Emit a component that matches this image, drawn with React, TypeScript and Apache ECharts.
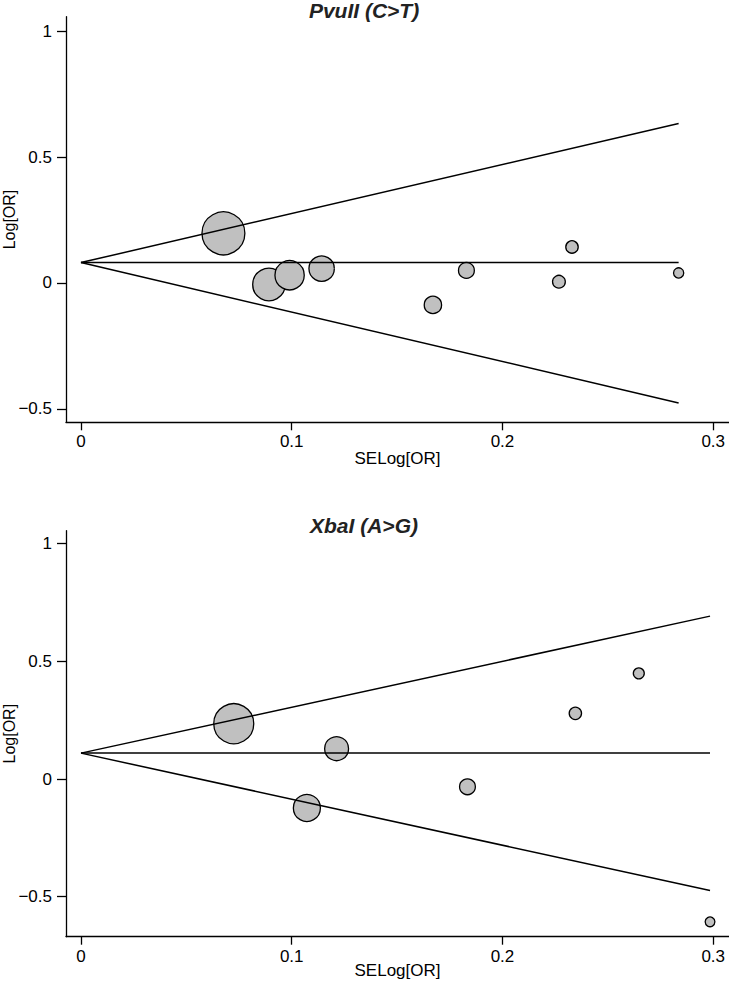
import React, { useEffect, useRef } from "react";
import * as echarts from "echarts";

// Tick values
const xTicks = [0, 0.1, 0.2, 0.3];
const yTicks = [-0.5, 0, 0.5, 1];

// PvuII (C>T)
const pvuTitle = "PvuII (C>T)";
const pvuSE = [0.0676, 0.0892, 0.099, 0.1142, 0.167, 0.1829, 0.2268, 0.233, 0.2836];
const pvuLogOR = [0.197, -0.006, 0.031, 0.057, -0.087, 0.05, 0.005, 0.143, 0.04];
const pvuFunnelSE = [0, 0.2836];
const pvuPooled = [0.081, 0.081];
const pvuUpper = [0.081, 0.633];
const pvuLower = [0.081, -0.476];

// XbaI (A>G)
const xbaTitle = "XbaI (A>G)";
const xbaSE = [0.0725, 0.1072, 0.1213, 0.1834, 0.2346, 0.2647, 0.2985];
const xbaLogOR = [0.235, -0.123, 0.129, -0.033, 0.279, 0.449, -0.607];
const xbaFunnelSE = [0, 0.2985];
const xbaPooled = [0.11, 0.11];
const xbaUpper = [0.11, 0.692];
const xbaLower = [0.11, -0.474];

const FONT = "'Liberation Sans', Arial, Helvetica, sans-serif";

function pairs(xs: number[], ys: number[]) {
  return xs.map((x, i) => [x, ys[i]]);
}

function buildSeries(
  idx: number,
  se: number[],
  lor: number[],
  fSE: number[],
  pooled: number[],
  upper: number[],
  lower: number[]
) {
  const lineCommon = {
    type: "line",
    xAxisIndex: idx,
    yAxisIndex: idx,
    showSymbol: false,
    symbol: "none",
    silent: true,
    z: 4,
    lineStyle: { color: "#000", width: 1.5 },
  };
  return [
    {
      type: "scatter",
      xAxisIndex: idx,
      yAxisIndex: idx,
      z: 2,
      symbol: "circle",
      symbolSize: (v: number[]) => 2.9 / v[0],
      itemStyle: { color: "#c0c0c0", borderColor: "#000", borderWidth: 1.3, opacity: 1 },
      data: pairs(se, lor),
    },
    { ...lineCommon, data: pairs(fSE, pooled) },
    { ...lineCommon, data: pairs(fSE, upper) },
    { ...lineCommon, data: pairs(fSE, lower) },
  ];
}

function xAxisCfg(idx: number) {
  return {
    gridIndex: idx,
    type: "value",
    min: -0.0071,
    max: 0.3075,
    name: "SELog[OR]",
    nameLocation: "middle",
    nameGap: idx === 0 ? 28 : 25,
    nameMoveOverlap: false,
    nameTextStyle: { fontSize: 17, color: "#000", fontFamily: FONT },
    axisLine: { show: true, onZero: false, lineStyle: { color: "#000", width: 1.3 } },
    axisTick: { show: true, customValues: xTicks, length: 8, lineStyle: { color: "#000", width: 1.3 } },
    axisLabel: {
      customValues: xTicks,
      margin: 11,
      fontSize: 17,
      color: "#000",
      fontFamily: FONT,
      formatter: (v: number) => String(v),
    },
    splitLine: { show: false },
  };
}

function yAxisCfg(idx: number, min: number, max: number) {
  return {
    gridIndex: idx,
    type: "value",
    min,
    max,
    name: "Log[OR]",
    nameLocation: "middle",
    nameGap: 49,
    nameRotate: 90,
    nameMoveOverlap: false,
    nameTextStyle: { fontSize: 16, color: "#000", fontFamily: FONT },
    axisLine: { show: true, onZero: false, lineStyle: { color: "#000", width: 1.3 } },
    axisTick: { show: true, customValues: yTicks, length: 9, lineStyle: { color: "#000", width: 1.3 } },
    axisLabel: {
      customValues: yTicks,
      margin: 14,
      fontSize: 17,
      color: "#000",
      fontFamily: FONT,
      formatter: (v: number) => String(v).replace("-", "\u2212"),
    },
    splitLine: { show: false },
  };
}

export default function App() {
  const ref = useRef<HTMLDivElement>(null);
  useEffect(() => {
    if (!ref.current) return;
    const chart = echarts.init(ref.current, null, { renderer: "svg" });
    chart.setOption({
      animation: false,
      backgroundColor: "#fff",
      grid: [
        { left: 66, top: 16.7, right: 0, height: 405.6, containLabel: false, outerBoundsMode: "none" },
        { left: 66, top: 530.7, right: 0, height: 406, containLabel: false, outerBoundsMode: "none" },
      ],
      xAxis: [xAxisCfg(0), xAxisCfg(1)],
      yAxis: [yAxisCfg(0, -0.553, 1.057), yAxisCfg(1, -0.67, 1.055)],
      graphic: [
        {
          type: "text",
          x: 364,
          y: 10,
          style: {
            text: pvuTitle,
            textAlign: "center",
            textVerticalAlign: "middle",
            font: `italic bold 21px ${FONT}`,
            fill: "#222",
          },
        },
        {
          type: "text",
          x: 364,
          y: 525,
          style: {
            text: xbaTitle,
            textAlign: "center",
            textVerticalAlign: "middle",
            font: `italic bold 21px ${FONT}`,
            fill: "#222",
          },
        },
      ],
      series: [
        ...buildSeries(0, pvuSE, pvuLogOR, pvuFunnelSE, pvuPooled, pvuUpper, pvuLower),
        ...buildSeries(1, xbaSE, xbaLogOR, xbaFunnelSE, xbaPooled, xbaUpper, xbaLower),
      ],
    });
    return () => chart.dispose();
  }, []);
  return (
    <div
      ref={ref}
      style={{ position: "fixed", left: 0, top: 0, width: 729, height: 981, background: "#fff" }}
    />
  );
}
